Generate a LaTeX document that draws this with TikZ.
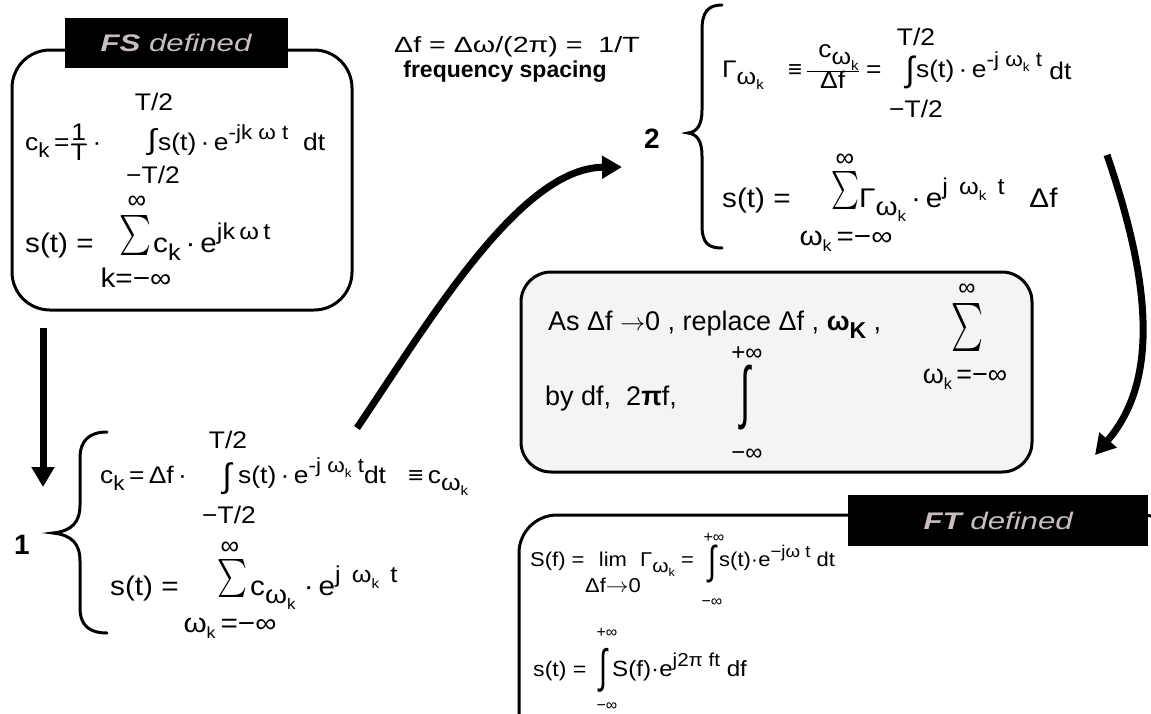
\documentclass[tikz,border=0pt]{standalone}
\usepackage{fontspec}
\setmainfont{Liberation Sans}
\usepackage{graphicx}
\usetikzlibrary{arrows.meta}
\newcommand{\fsz}[1]{\fontsize{#1}{#1}\selectfont}
\newcommand{\X}[1]{\scalebox{1.1}[1]{#1}}
\newcommand{\Sup}[1]{\raisebox{0.45em}{\scalebox{0.85}{#1}}}
\newcommand{\Sub}[1]{\raisebox{-0.3em}{\scalebox{0.85}{#1}}}
\newcommand{\Sk}{\raisebox{-0.25em}{\scalebox{0.6}{k}}}
\newcommand{\wk}{ω\Sk}
\newcommand{\Sw}{\raisebox{-0.3em}{\scalebox{0.95}{\wk}}}
\newcommand{\Ig}[2]{\resizebox*{#1}{#2}{∫}}
\newcommand{\Sg}[2]{\resizebox*{#1}{#2}{$\sum$}}
\definecolor{lbl}{RGB}{200,190,190}
\definecolor{pale}{RGB}{243,245,243}
\tikzset{
  box/.style={draw=black, line width=3pt, rounded corners=38pt},
  label/.style={fill=black, inner sep=0pt, text=lbl},
  eq/.style={anchor=base west, inner sep=0pt},
  lim/.style={anchor=base, inner sep=0pt},
  op/.style={inner sep=0pt},
  bigarrow/.style={line width=7pt, -{Triangle[length=20pt,width=22pt]}},
  brace/.style={line width=3pt, line cap=round},
  num/.style={font=\fsz{28}\bfseries, inner sep=0pt}
}
\begin{document}
\begin{tikzpicture}[x=1pt,y=-1pt]
\useasboundingbox (0,0) rectangle (1151,713);
\clip (0,0) rectangle (1151,713);
% ---------- FS box
\draw[box] (12,50) rectangle (352,310);
\node[label, minimum width=223pt, minimum height=50pt] (fslabel) at (176,43) {\fsz{24}\scalebox{1.3}[1]{\bfseries\itshape FS \mdseries defined}};
\node[eq] (fs1a) at (25,150) {\fsz{24}\X{c\Sub{k}\,=$\frac{\mbox{1}}{\mbox{T}}$\,·}};
\node[op] (fs1i) at (152,142) {\Ig{9pt}{27pt}};
\node[lim] (fs1u) at (154,110) {\fsz{24}\X{T/2}};
\node[lim] (fs1l) at (153,183) {\fsz{24}\X{−T/2}};
\node[eq] (fs1b) at (158,150) {\fsz{24}\X{s(t)\,·\,e\Sup{-jk\ ω\ t}\ \ dt}};
\node[eq] (fs2a) at (25,252) {\fsz{27}\X{s(t) =}};
\node[op] (fs2s) at (136,235) {\Sg{32pt}{40pt}};
\node[lim] (fs2u) at (137,208) {\fsz{26}∞};
\node[lim] (fs2l) at (136,287) {\fsz{27}\X{k=−∞}};
\node[eq] (fs2b) at (153,252) {\fsz{27}\X{c\Sub{k}\,·\,e\Sup{jk\,ω\,t}}};
% ---------- top centre
\node[inner sep=0pt] (df) at (517,47) {\fsz{22}\scalebox{1.3}[1]{Δf = Δω/(2π) =\ \ 1/T}};
\node[inner sep=0pt] (fsp) at (505,72) {\fsz{23}\bfseries frequency spacing};
% ---------- formula 2
\node[num] (n2) at (652,139) {2};
\draw[brace] (722,5) .. controls (708,5) and (702,12) .. (702,30) -- (702,110) .. controls (702,125) and (697,132) .. (688,133) .. controls (697,134) and (702,141) .. (702,156) -- (702,225) .. controls (702,243) and (708,248) .. (722,248);
\node[eq] (f21g) at (722,77) {\fsz{24}\X{Γ\Sw}};
\node[eq] (f21e) at (788,77) {\fsz{24}≡};
\node[eq] (f21f) at (805,77) {\fsz{24}\X{$\frac{\mbox{\hspace{0.45em}c\Sw}}{\mbox{Δf}}$}};
\node[eq] (f21q) at (866,77) {\fsz{24}\X{=}};
\node[op] (f21i) at (910,72) {\Ig{9pt}{33pt}};
\node[lim] (f21u) at (916,45) {\fsz{24}\X{T/2}};
\node[lim] (f21l) at (916,117) {\fsz{24}\X{−T/2}};
\node[eq] (f21b) at (916,77) {\fsz{24}\X{s(t)\,·\,e\Sup{-j\ \wk\ t}\ \raisebox{-0.1em}{dt}}};
\node[eq] (f22a) at (722,207) {\fsz{27}\X{s(t) =}};
\node[op] (f22s) at (845,190) {\Sg{28pt}{38pt}};
\node[lim] (f22u) at (845,166) {\fsz{26}∞};
\node[lim] (f22l) at (846,245) {\fsz{27}\X{\wk\,=−∞}};
\node[eq] (f22b) at (859,207) {\fsz{27}\X{Γ\Sw\,·\,e\Sup{j\ \,\wk\ \,t}\ \ \ Δf}};
% ---------- formula 1
\node[num] (n1) at (22,545) {1};
\draw[brace] (107,432) .. controls (90,432) and (80,440) .. (80,458) -- (80,505) .. controls (80,522) and (72,531) .. (53,533) .. controls (72,535) and (80,544) .. (80,561) -- (80,608) .. controls (80,626) and (90,633) .. (107,633);
\node[eq] (f11a) at (100,483) {\fsz{24}\X{c\Sub{k}\,=\,Δf\,·}};
\node[op] (f11i) at (227,479) {\Ig{9pt}{32pt}};
\node[lim] (f11u) at (228,448) {\fsz{24}\X{T/2}};
\node[lim] (f11l) at (229,523) {\fsz{24}\X{−T/2}};
\node[eq] (f11b) at (238,483) {\fsz{24}\X{s(t)\,·\,e\Sup{-j\ \wk\ t}dt\ \ \ ≡\,c\Sw}};
\node[eq] (f12a) at (110,595) {\fsz{27}\X{s(t) =}};
\node[op] (f12s) at (232,578) {\Sg{30pt}{38pt}};
\node[lim] (f12u) at (230,554) {\fsz{26}∞};
\node[lim] (f12l) at (230,632) {\fsz{27}\X{\wk\,=−∞}};
\node[eq] (f12b) at (250,595) {\fsz{27}\X{c\Sw\ ·\,e\Sup{j\ \,\wk\ \,t}}};
% ---------- middle box
\draw[box, rounded corners=30pt, fill=pale] (521,272) rectangle (1032,472);
\node[eq] (m1a) at (548,330) {\fsz{27}As Δf $\rightarrow$0 , replace Δf , \textbf{ω\Sub{K}} ,};
\node[op] (m1s) at (967,327) {\Sg{32pt}{48pt}};
\node[lim] (m1u) at (967,295) {\fsz{24}∞};
\node[lim] (m1l) at (965,383) {\fsz{27}\wk\,=−∞};
\node[eq] (m2a) at (545,405) {\fsz{27}by df,\ \ 2\textbf{π}f,};
\node[op] (m2i) at (745,398) {\Ig{10pt}{65pt}};
\node[lim] (m2u) at (747,360) {\fsz{24}+∞};
\node[lim] (m2l) at (747,460) {\fsz{24}−∞};
% ---------- FT box
\draw[box] (519,515) rectangle (1180,760);
\node[label, minimum width=300pt, minimum height=51pt, anchor=north west] (ftlabel) at (848,495) {\fsz{24}\scalebox{1.3}[1]{\bfseries\itshape FT \mdseries defined}};
\node[eq] (ft1a) at (530,566) {\fsz{20}\X{S(f) =}};
\node[lim] (ft1l) at (613,566) {\fsz{20}\X{lim}};
\node[lim] (ft1d) at (613,592) {\fsz{20}\X{Δf$\rightarrow$0}};
\node[eq] (ft1b) at (640,566) {\fsz{20}\X{Γ\Sw\ =}};
\node[op] (ft1i) at (712,564) {\Ig{8pt}{38pt}};
\node[lim] (ft1u) at (714,542) {\fsz{16}+∞};
\node[lim] (ft1w) at (712,606) {\fsz{16}−∞};
\node[eq] (ft1c) at (719,566) {\fsz{20}\X{s(t)·e\Sup{−jω\ t}\ dt}};
\node[eq] (ft2a) at (533,676) {\fsz{21}\X{s(t) =}};
\node[op] (ft2i) at (603,670) {\Ig{8pt}{44pt}};
\node[lim] (ft2u) at (607,637) {\fsz{16}+∞};
\node[lim] (ft2l) at (607,710) {\fsz{16}−∞};
\node[eq] (ft2b) at (612,676) {\fsz{22}\X{S(f)·e\Sup{j2π\ ft}\ df}};
% ---------- arrows
\coordinate (a1s) at (43,328);
\coordinate (a1e) at (43,487);
\draw[bigarrow] (a1s) -- (a1e);
\coordinate (a2s) at (357,428);
\coordinate (a2e) at (622,167);
\draw[bigarrow] (a2s) .. controls (430,320) and (520,168) .. (a2e);
\coordinate (a3s) at (1107,155);
\coordinate (a3e) at (1095,455);
\draw[bigarrow] (a3s) .. controls (1150,280) and (1160,380) .. (a3e);
\end{tikzpicture}
\end{document}
